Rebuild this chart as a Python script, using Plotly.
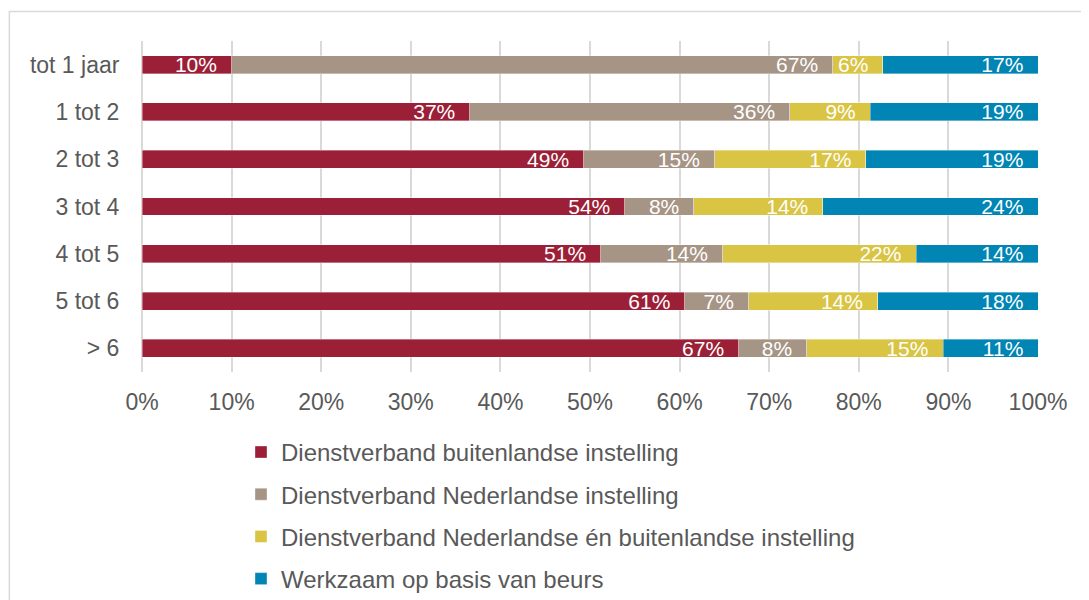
import plotly.graph_objects as go

categories = ['tot 1 jaar', '1 tot 2', '2 tot 3', '3 tot 4', '4 tot 5', '5 tot 6', '> 6']

buitenlands = [10.0, 36.6, 49.3, 53.9, 51.2, 60.6, 66.6]
nederlands = [67.1, 35.7, 14.6, 7.7, 13.6, 7.1, 7.6]
beide = [5.6, 9.0, 16.9, 14.4, 21.6, 14.4, 15.2]
beurs = [17.3, 18.7, 19.2, 24.0, 13.6, 17.9, 10.6]

series = [
    ('Dienstverband buitenlandse instelling', buitenlands, '#9b1f36'),
    ('Dienstverband Nederlandse instelling', nederlands, '#a69485'),
    ('Dienstverband Nederlandse én buitenlandse instelling', beide, '#d9c444'),
    ('Werkzaam op basis van beurs', beurs, '#0085b5'),
]

font_family = 'Liberation Sans, Arial, sans-serif'
text_grey = '#595959'

fig = go.Figure()
for i, (name, vals, color) in enumerate(series):
    fig.add_trace(go.Bar(
        y=categories, x=vals, name=name, orientation='h',
        marker=dict(color=color, line=dict(color='rgba(255,255,255,0.6)', width=0.6)),
        texttemplate='%{x:.0f}%\u00a0\u00a0',
        textposition='inside', insidetextanchor='end', constraintext='none',
        insidetextfont=dict(color='white', size=21, family=font_family),
        legendgroup=f'g{i}',
        hoverinfo='skip',
    ))

# the page body adds an 8px margin, so the figure is sized to fit inside the window
fig.update_layout(
    width=1081, height=592,
    barmode='stack', bargap=0.62,
    paper_bgcolor='white', plot_bgcolor='white',
    margin=dict(l=134, r=51, t=33, b=228, autoexpand=False),
    font=dict(family=font_family, color=text_grey, size=23),
    showlegend=True,
    legend=dict(
        x=0.1105, y=-0.175, xanchor='left', yanchor='top',
        orientation='v', traceorder='grouped', tracegroupgap=8,
        font=dict(size=24, color=text_grey), itemwidth=30,
        bgcolor='rgba(0,0,0,0)',
    ),
    xaxis=dict(
        range=[0, 100], dtick=10, ticksuffix='%',
        showgrid=True, gridcolor='#d9d9d9', gridwidth=1.5,
        zeroline=True, zerolinecolor='#d9d9d9', zerolinewidth=1.5,
        showline=False, ticks='outside', ticklen=9, tickcolor='rgba(0,0,0,0)',
        automargin=False,
        tickfont=dict(size=23, color=text_grey),
    ),
    yaxis=dict(
        autorange='reversed', showgrid=False, showline=False,
        ticks='outside', ticklen=17, tickcolor='rgba(0,0,0,0)', automargin=False,
        tickfont=dict(size=23, color=text_grey),
    ),
    shapes=[dict(
        type='rect', xref='paper', yref='paper',
        x0=-0.148, x1=1.056, y0=-1.0, y1=1.089,
        line=dict(color='#d9d9d9', width=1.5), fillcolor='rgba(0,0,0,0)',
        layer='below',
    )],
)

fig.write_html('out.html')
